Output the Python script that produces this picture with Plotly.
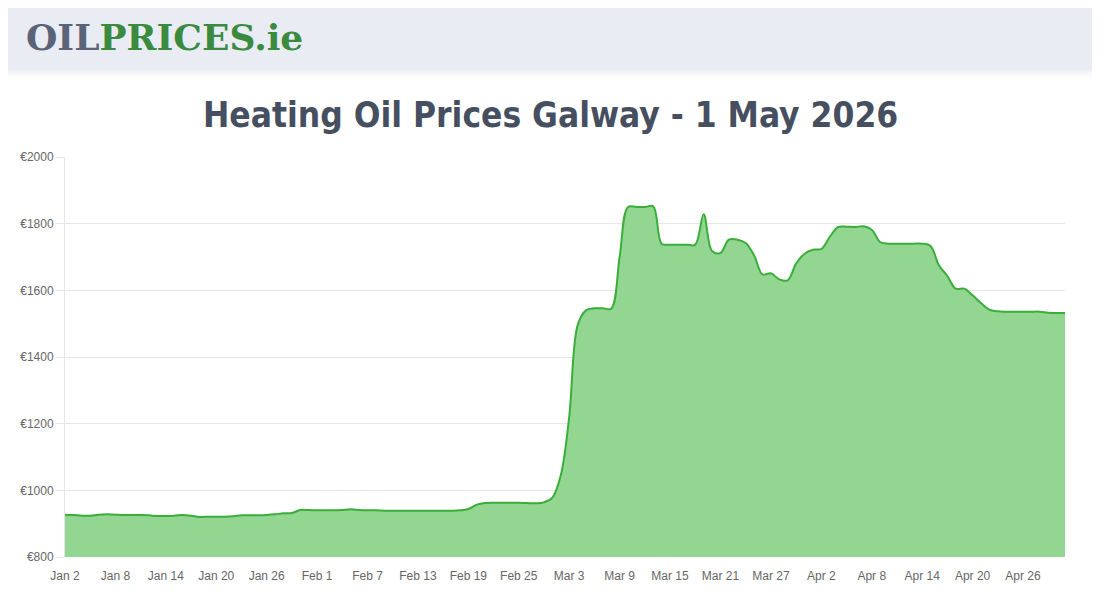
import pandas as pd
import plotly.graph_objects as go

# ---- data ----
start_date = "2026-01-02"
end_date = "2026-05-01"
dates = pd.date_range(start_date, end_date, freq="D")

prices = [
    927, 926, 924, 924, 927, 928, 927, 926, 926, 926,
    925, 923, 923, 924, 926, 924, 920, 921, 921, 921,
    922, 925, 925, 925, 926, 928, 931, 932, 941, 941,
    940, 940, 940, 941, 943, 941, 940, 940, 939, 939,
    939, 939, 939, 939, 939, 939, 939, 940, 944, 957,
    962, 963, 963, 963, 963, 962, 961, 964, 978, 1045,
    1220, 1495, 1540, 1546, 1546, 1545, 1700, 1850, 1850, 1850,
    1852, 1740, 1737, 1737, 1737, 1737, 1828, 1718, 1712, 1752,
    1752, 1742, 1705, 1648, 1651, 1633, 1630, 1680, 1710, 1722,
    1724, 1760, 1790, 1791, 1790, 1792, 1782, 1745, 1740, 1740,
    1740, 1740, 1740, 1733, 1675, 1643, 1605, 1605, 1585, 1562,
    1542, 1537, 1536, 1536, 1536, 1536, 1536, 1533, 1532, 1532,
]

y_min, y_max, y_step = 800, 2000, 200
tick_every_days = 6

title_text = "Heating Oil Prices Galway - 1 May 2026"
logo_part1 = "OIL"
logo_part2 = "PRICES.ie"

# page body has an 8px margin; figure is sized so the plot lands where the reference has it
W, H = 1092, 592
ML, MR, MT, MB = 57, 35, 149, 43
PW, PH = W - ML - MR, H - MT - MB


def px_x(X):  # screen pixel -> paper x
    return (X - 8 - ML) / PW


def px_y(Y):  # screen pixel -> paper y
    return (H - MB - (Y - 8)) / PH


fig = go.Figure()
fig.add_trace(go.Scatter(
    x=dates, y=prices, mode="lines",
    line=dict(color="#3aad3a", width=2, shape="spline", smoothing=1.0),
    fill="tozeroy", fillcolor="#92d692",
    hoverinfo="skip",
))

shapes = [
    dict(type="rect", xref="paper", yref="paper", x0=-0.2, x1=1.2,
         y0=px_y(70), y1=px_y(-20), fillcolor="#e9ecf3", line=dict(width=0), layer="below"),
]
for k, op in enumerate([0.10, 0.07, 0.045, 0.025, 0.012]):
    shapes.append(dict(type="rect", xref="paper", yref="paper", x0=-0.2, x1=1.2,
                       y0=px_y(72 + 2 * k), y1=px_y(70 + 2 * k),
                       fillcolor=f"rgba(120,130,150,{op})", line=dict(width=0), layer="below"))

fig.update_layout(
    width=W, height=H,
    margin=dict(l=ML, r=MR, t=MT, b=MB),
    paper_bgcolor="white", plot_bgcolor="white",
    showlegend=False,
    shapes=shapes,
    font=dict(family="Liberation Sans, Arial, sans-serif", size=12, color="#666666"),
    annotations=[
        dict(text=f"<b>{title_text}</b>", xref="paper", yref="paper", x=px_x(550), y=px_y(115),
             xanchor="center", yanchor="middle", showarrow=False,
             font=dict(family="Liberation Sans Narrow, DejaVu Sans Condensed, Roboto, sans-serif",
                       size=35, color="#464f5f")),
        dict(text=f"<b><span style='color:#5b6378'>{logo_part1}</span>"
                  f"<span style='color:#3a8a3f'>{logo_part2}</span></b>",
             xref="paper", yref="paper", x=px_x(24), y=px_y(37),
             xanchor="left", yanchor="middle", showarrow=False,
             font=dict(family="DejaVu Serif, serif", size=36)),
    ],
)

fig.update_xaxes(
    type="date",
    range=[dates[0], dates[-1]],
    tick0=dates[0], dtick=tick_every_days * 86400000,
    tickformat="%b %-d",
    showgrid=False, zeroline=False, showline=False,
    ticks="outside", ticklen=8, tickcolor="rgba(0,0,0,0)",
    tickfont=dict(family="Liberation Sans, Arial, sans-serif", size=12, color="#666666"),
)
fig.update_yaxes(
    range=[y_min, y_max], dtick=y_step, tick0=y_min,
    tickprefix="€", tickformat="d",
    showgrid=True, gridcolor="#e6e6e6", gridwidth=1,
    zeroline=False,
    showline=True, linecolor="#e6e6e6", linewidth=1,
    ticks="outside", ticklen=8, tickcolor="#e6e6e6",
    tickfont=dict(family="Liberation Sans, Arial, sans-serif", size=12, color="#666666"),
)

fig.write_html("out.html")
